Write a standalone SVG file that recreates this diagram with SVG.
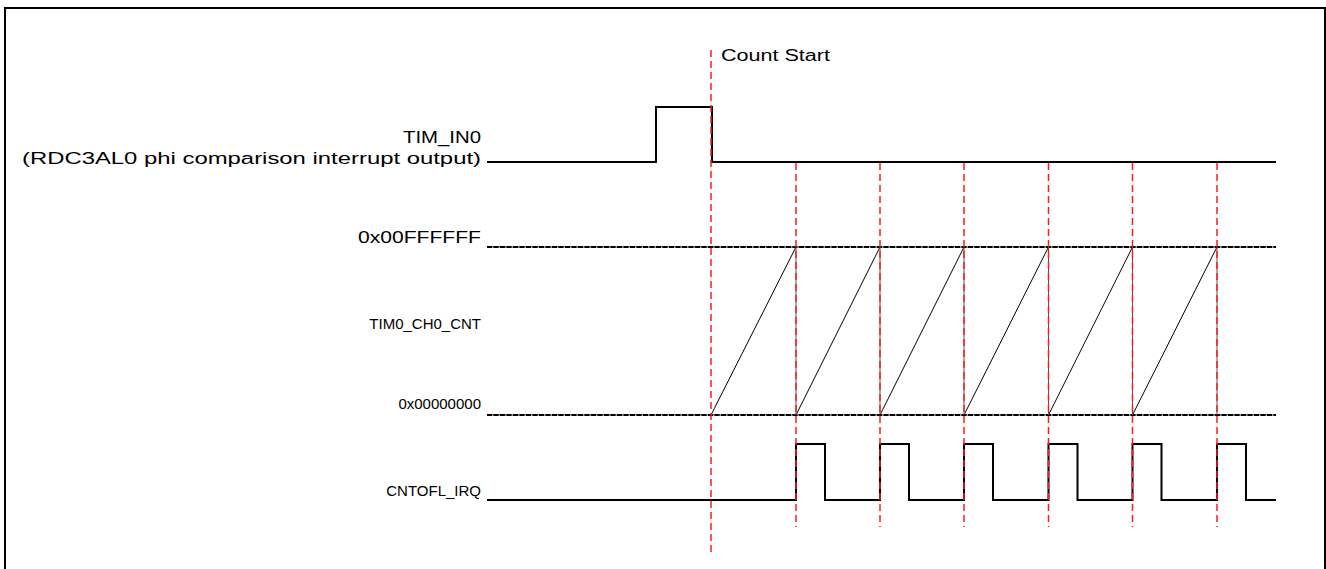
<svg xmlns="http://www.w3.org/2000/svg" width="1326" height="569" viewBox="0 0 1326 569">
<style>
.lbl{font-family:"Liberation Sans",Arial,sans-serif;font-size:16px;fill:#000}
.nat{font-family:"Liberation Sans",Arial,sans-serif;font-size:15px;fill:#000;text-anchor:end}
.sig{fill:none;stroke:#000;stroke-width:2}
.lvlbg{stroke:#999;stroke-width:2}
.lvl{stroke:#000;stroke-width:2;stroke-dasharray:5 1.5}
.ramp{fill:none;stroke:#000;stroke-width:1}
.drop{stroke:#555;stroke-width:1}
.mark{stroke:#ff1a1a;stroke-width:1.5;stroke-dasharray:7 4}
</style>
<rect x="5" y="8" width="1320" height="580" fill="#fff" stroke="#000" stroke-width="2"/>
<g id="labels">
<text class="lbl" x="403" y="143" textLength="78" lengthAdjust="spacingAndGlyphs">TIM_IN0</text>
<text class="lbl" x="22" y="164" textLength="459" lengthAdjust="spacingAndGlyphs">(RDC3AL0 phi comparison interrupt output)</text>
<text class="lbl" x="358" y="243" textLength="123" lengthAdjust="spacingAndGlyphs">0x00FFFFFF</text>
<text class="nat" x="481" y="329">TIM0_CH0_CNT</text>
<text class="nat" x="481" y="409">0x00000000</text>
<text class="nat" x="481" y="496">CNTOFL_IRQ</text>
<text class="lbl" x="721" y="61" textLength="109" lengthAdjust="spacingAndGlyphs">Count Start</text>
</g>
<g id="levels">
<line class="lvlbg" x1="487" y1="247" x2="1276" y2="247"/>
<line class="lvl" x1="487" y1="247" x2="1276" y2="247"/>
<line class="lvlbg" x1="487" y1="415" x2="1276" y2="415"/>
<line class="lvl" x1="487" y1="415" x2="1276" y2="415"/>
</g>
<g id="tim_in0">
<polyline class="sig" points="487,162 656,162 656,107 712,107 712,162 1276,162"/>
</g>
<g id="counter">
<polyline class="ramp" points="711,415 796,247"/>
<polyline class="ramp" points="796,415 880,247"/>
<polyline class="ramp" points="880,415 964,247"/>
<polyline class="ramp" points="964,415 1048.5,247"/>
<polyline class="ramp" points="1048.5,415 1132.5,247"/>
<polyline class="ramp" points="1132.5,415 1217,247"/>
<line class="drop" x1="796" y1="247" x2="796" y2="415"/>
<line class="drop" x1="880" y1="247" x2="880" y2="415"/>
<line class="drop" x1="964" y1="247" x2="964" y2="415"/>
<line class="drop" x1="1048.5" y1="247" x2="1048.5" y2="415"/>
<line class="drop" x1="1132.5" y1="247" x2="1132.5" y2="415"/>
<line class="drop" x1="1217" y1="247" x2="1217" y2="415"/>
</g>
<g id="cntofl_irq">
<polyline class="sig" points="487,500 796,500 796,444 825,444 825,500 880,500 880,444 909,444 909,500 964,500 964,444 993,444 993,500 1048.5,500 1048.5,444 1077.5,444 1077.5,500 1132.5,500 1132.5,444 1161.5,444 1161.5,500 1217,500 1217,444 1246,444 1246,500 1276,500"/>
</g>
<g id="connectors">
<line class="mark" x1="711" y1="50" x2="711" y2="556"/>
<line class="mark" x1="796" y1="163" x2="796" y2="527"/>
<line class="mark" x1="880" y1="163" x2="880" y2="527"/>
<line class="mark" x1="964" y1="163" x2="964" y2="527"/>
<line class="mark" x1="1048.5" y1="163" x2="1048.5" y2="527"/>
<line class="mark" x1="1132.5" y1="163" x2="1132.5" y2="527"/>
<line class="mark" x1="1217" y1="163" x2="1217" y2="527"/>
</g>
</svg>
